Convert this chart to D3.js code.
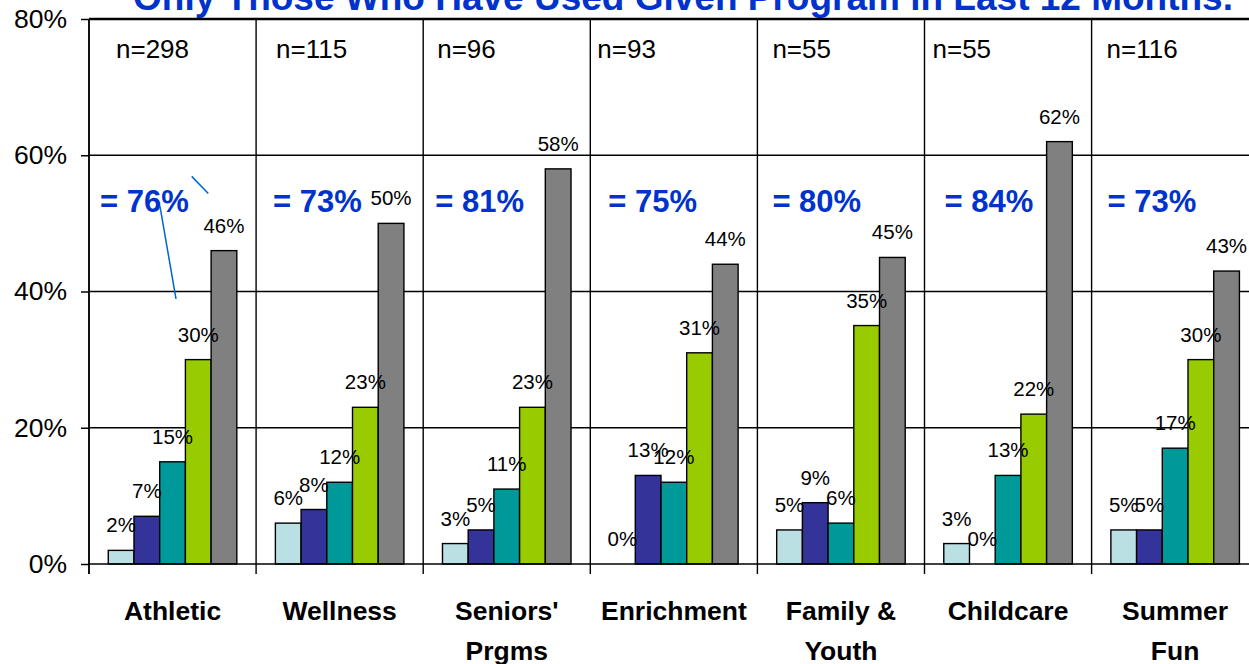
<!DOCTYPE html>
<html lang="en">
<head>
<meta charset="utf-8">
<title>Program ratings</title>
<script src="https://cdn.jsdelivr.net/npm/d3@7"></script>
<style>
  body { margin: 0; background: #fff; }
  svg { display: block; font-family: Arial, "Liberation Sans", sans-serif; }
</style>
</head>
<body>
<script>
  var w = 1249;
  var h = 664;

  // data
  var categories = [["Athletic"], ["Wellness"], ["Seniors'", "Prgms"], ["Enrichment"],
                    ["Family &", "Youth"], ["Childcare"], ["Summer", "Fun"]];
  var sampleSizes = ["n=298", "n=115", "n=96", "n=93", "n=55", "n=55", "n=116"];
  var topTwo = ["= 76%", "= 73%", "= 81%", "= 75%", "= 80%", "= 84%", "= 73%"];
  var series1 = [2, 6, 3, 0, 5, 3, 5];
  var series2 = [7, 8, 5, 13, 9, 0, 5];
  var series3 = [15, 12, 11, 12, 6, 13, 17];
  var series4 = [30, 23, 23, 31, 35, 22, 30];
  var series5 = [46, 50, 58, 44, 45, 62, 43];
  var yTicks = [0, 20, 40, 60, 80];

  // layout (text boxes were placed by hand in the original)
  var nDx = [27, 20, 14, 7, 15, 8, 15];
  var bigDx = [11, 17, 12, 18, 15, 20, 16];
  var colors = ["#BBE0E3", "#333399", "#009999", "#99CC00", "#808080"];
  var allSeries = [series1, series2, series3, series4, series5];

  var left = 89, bandW = 167.1;
  var x = d3.scaleBand()
            .domain(d3.range(categories.length))
            .range([left, left + bandW * categories.length])
            .paddingInner(0).paddingOuter(0);
  var bw = bandW / 6.5;
  var xs = d3.scaleBand().domain(d3.range(5))
             .range([bw * 0.75, bandW - bw * 0.75]).padding(0);
  var y = d3.scaleLinear().domain([0, 80]).range([564, 19]);

  var svg = d3.select("body").append("svg")
              .attr("width", w).attr("height", h);

  // title, cut off at the top like the source
  svg.append("text")
     .attr("x", 683).attr("y", 10)
     .attr("text-anchor", "middle")
     .attr("font-size", 37).attr("font-weight", "bold")
     .attr("fill", "#0033CC")
     .text("Only Those Who Have Used Given Program in Last 12 Months.");

  // horizontal gridlines
  svg.selectAll("line.hgrid")
     .data(yTicks.filter(function(d) { return d > 0; }))
     .enter().append("line")
     .attr("class", "hgrid")
     .attr("x1", left).attr("x2", w)
     .attr("y1", function(d) { return y(d); })
     .attr("y2", function(d) { return y(d); })
     .attr("stroke", "#000")
     .attr("stroke-width", function(d) { return d === 80 ? 2.5 : 1.5; });

  // vertical group separators, with ticks below the axis
  svg.selectAll("line.vgrid")
     .data(d3.range(categories.length + 1))
     .enter().append("line")
     .attr("class", "vgrid")
     .attr("x1", function(i) { return left + i * bandW; })
     .attr("x2", function(i) { return left + i * bandW; })
     .attr("y1", y(80)).attr("y2", y(0) + 10)
     .attr("stroke", "#000").attr("stroke-width", 1.4);

  // y axis
  var yAxis = d3.axisLeft(y).tickValues(yTicks)
                .tickFormat(function(d) { return d + "%"; })
                .tickSize(8).tickPadding(14);
  var ya = svg.append("g").attr("transform", "translate(" + left + ",0)").call(yAxis);
  ya.select(".domain").remove();
  ya.selectAll(".tick line").attr("stroke", "#000").attr("stroke-width", 1.5);
  ya.selectAll(".tick text").attr("font-size", 26.5).attr("fill", "#000")
    .attr("font-family", "Arial, 'Liberation Sans', sans-serif");

  // bars
  var groups = svg.selectAll("g.cat")
                  .data(categories)
                  .enter().append("g")
                  .attr("class", "cat")
                  .attr("transform", function(d, i) { return "translate(" + x(i) + ",0)"; });

  groups.each(function(d, i) {
    var g = d3.select(this);
    var vals = allSeries.map(function(s) { return s[i]; });
    g.selectAll("rect").data(vals).enter().append("rect")
     .attr("x", function(v, k) { return xs(k); })
     .attr("y", function(v) { return y(v); })
     .attr("width", xs.bandwidth())
     .attr("height", function(v) { return y(0) - y(v); })
     .attr("fill", function(v, k) { return colors[k]; })
     .attr("stroke", function(v) { return v > 0 ? "#000" : "none"; })
     .attr("stroke-width", 1.4);
    g.selectAll("text.val").data(vals).enter().append("text")
     .attr("class", "val")
     .attr("x", function(v, k) { return xs(k) + xs.bandwidth() / 2; })
     .attr("y", function(v) { return y(v) - 18; })
     .attr("text-anchor", "middle")
     .attr("font-size", 20.5).attr("fill", "#000")
     .text(function(v) { return v + "%"; });
  });

  // zero line and axis line on top of bars
  svg.append("line").attr("x1", left).attr("x2", w)
     .attr("y1", y(0)).attr("y2", y(0))
     .attr("stroke", "#000").attr("stroke-width", 1.5);
  svg.append("line").attr("x1", left).attr("x2", left)
     .attr("y1", y(80)).attr("y2", y(0) + 10)
     .attr("stroke", "#000").attr("stroke-width", 1.5);

  // n= labels
  svg.selectAll("text.n").data(sampleSizes).enter().append("text")
     .attr("class", "n")
     .attr("x", function(d, i) { return x(i) + nDx[i]; })
     .attr("y", 58)
     .attr("font-size", 26).attr("fill", "#000")
     .text(function(d) { return d; });

  // big blue totals
  svg.selectAll("text.big").data(topTwo).enter().append("text")
     .attr("class", "big")
     .attr("x", function(d, i) { return x(i) + bigDx[i]; })
     .attr("y", 212)
     .attr("font-size", 31).attr("font-weight", "bold").attr("fill", "#0033CC")
     .text(function(d) { return d; });

  // callout strokes in the first group
  var callouts = [[71, 52.5, 87, 38.9], [102.7, 56.9, 119.3, 54.4]];
  svg.selectAll("line.callout").data(callouts).enter().append("line")
     .attr("class", "callout")
     .attr("x1", function(d) { return x(0) + d[0]; })
     .attr("y1", function(d) { return y(d[1]); })
     .attr("x2", function(d) { return x(0) + d[2]; })
     .attr("y2", function(d) { return y(d[3]); })
     .attr("stroke", "#0066CC").attr("stroke-width", 1.5);

  // category labels
  groups.each(function(d, i) {
    var t = d3.select(this).append("text")
              .attr("x", bandW / 2).attr("y", 620)
              .attr("text-anchor", "middle")
              .attr("font-size", 26.5).attr("font-weight", "bold").attr("fill", "#000");
    d.forEach(function(line, j) {
      t.append("tspan").attr("x", bandW / 2).attr("dy", j === 0 ? 0 : 40).text(line);
    });
  });
</script>
</body>
</html>
